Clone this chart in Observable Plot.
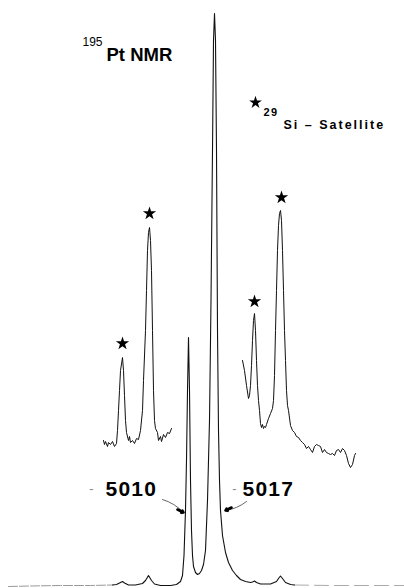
<!DOCTYPE html>
<html>
<head>
<meta charset="utf-8">
<script src="https://cdn.jsdelivr.net/npm/d3@7"></script>
<script src="https://cdn.jsdelivr.net/npm/@observablehq/plot@0.6"></script>
<style>
  html, body { margin: 0; padding: 0; background: #fff; }
  #chart svg { display: block; }
</style>
</head>
<body>
<div id="chart"></div>
<script>
// x: spectrum position (chart divisions, increasing to the right = more negative shift)
// y: intensity (arbitrary units above the main baseline)

// Main 195Pt spectrum (central part)
const mainX = [112,116,120,122,124,128,135,142,145,148,151,154,160,170,176,180,182,183.5,185,186,187,188,189,190,191,192,193,195,197,199,201,203,205,207,209,210.5,212,213,214,215,216,217,218,219,220,222,225,228,232,236,240,245,250,252,254,256,260,270,276,278,280,282,285,290,294];
const mainY = [0.5,1,3,4,2.5,0.5,0.5,2,5,10,5,1.5,0,0,1,4,10,30,75,125,195,248,195,105,55,30,19,13,11,12,15,21,35,85,165,285,435,545,572,545,435,255,155,105,75,50,33,23,15,10,6,4,3,3.5,4.5,3,1.5,1.5,4,7,9.5,7,3,1,0.5];

// Faint baseline outside the central region
const baseLeftX = [8,30,60,90,112];
const baseLeftY = [-1,-0.5,0,0,0.5];
const baseRightX = [294,330,370,404];
const baseRightY = [0.5,0,0,0];

// Expanded inset, left satellites
const leftInsetX = [103,104,105,107,108,110,112,114,116,117,118,119,120,122,123,124,125,126,128,129,130,132,134,136,138,140,142,143,145,146,147,148,149,150,151,152,153,154,155,157,158,160,161,163,165,167,169,171];
const leftInsetY = [145,141,144,139,143,141,144,139,142,155,175,195,215,228,215,190,165,153,145,149,143,145,142,147,146,155,175,205,255,295,335,353,358,345,315,255,195,165,157,153,145,149,144,151,148,153,152,157];

// Expanded inset, right satellites
const rightInsetX = [242,244,246,248,249,250,251,252,253,254,255,256,257,258,259,260,261,262,263,264,265,266,268,270,272,273,274,275,276,277,278,279,280,281,282,283,284,285,286,287,288,290,292,294,296,298,300,302,304,306,308,310,312,314,316,318,320,322,324,326,328,330,332,334,336,338,340,342,344,346,348,350,352,354,355];
const rightInsetY = [225,215,200,187,190,200,220,245,265,272,255,225,200,185,175,162,158,161,157,159,158,161,167,172,177,185,210,255,295,335,360,372,375,365,335,295,255,225,195,180,175,160,155,153,149,148,145,143,141,137,139,136,133,139,141,140,139,133,136,133,132,131,132,130,135,136,133,137,135,130,122,118,121,130,132];

// 29Si satellite markers
const starX = [122,149,254,281];
const starY = [242,372,284,388];

// Annotations
const shiftLabels = ["5010","5017"];
const shiftLabelX = [105,242];
const shiftLabelY = [90,90];
const dashX = [91,234];
const dashY = [97,97];
const arrowFrom = [[162,86],[246,84]];
const arrowTo = [[183,73],[225,75]];
const arrowNeck = [[177,76],[231,78]];

const pairs = (xs, ys) => xs.map((x, i) => ({x, y: ys[i]}));
const font = "Liberation Sans, Arial, Helvetica, sans-serif";

const chart = Plot.plot({
  width: 404,
  height: 588,
  margin: 0,
  x: {domain: [0, 404], range: [0, 404], axis: null},
  y: {domain: [0, 585], range: [585, 0], axis: null},
  style: {background: "#fff"},
  marks: [
    Plot.line(pairs(baseLeftX, baseLeftY), {x: "x", y: "y", stroke: "#999", strokeWidth: 1, strokeDasharray: "9,2"}),
    Plot.line(pairs(baseRightX, baseRightY), {x: "x", y: "y", stroke: "#aaa", strokeWidth: 1, strokeDasharray: "14,6"}),
    Plot.line(pairs(mainX, mainY), {x: "x", y: "y", stroke: "#111", strokeWidth: 1.1}),
    Plot.line(pairs(leftInsetX, leftInsetY), {x: "x", y: "y", stroke: "#111", strokeWidth: 1}),
    Plot.line(pairs(rightInsetX, rightInsetY), {x: "x", y: "y", stroke: "#111", strokeWidth: 1}),
    Plot.dot(pairs(starX, starY), {x: "x", y: "y", symbol: "star", r: 4.2, fill: "#000", stroke: "none"}),
    // title
    Plot.text(["195"], {x: () => 82, y: () => 540, text: d => d, textAnchor: "start", lineAnchor: "bottom", fontSize: 12, fontFamily: font, fill: "#000"}),
    Plot.text(["Pt NMR"], {x: () => 106, y: () => 525, text: d => d, textAnchor: "start", lineAnchor: "bottom", fontSize: 18.5, fontWeight: "bold", fontFamily: font, fill: "#000"}),
    // legend
    Plot.dot([0], {x: () => 255, y: () => 483, symbol: "star", r: 4, fill: "#000", stroke: "none"}),
    Plot.text(["29"], {x: () => 263, y: () => 470, text: d => d, textAnchor: "start", lineAnchor: "bottom", fontSize: 11, fontWeight: "bold", fontFamily: font, fill: "#000"}),
    Plot.text(["Si – Satellite"], {x: () => 283, y: () => 457, text: d => d, textAnchor: "start", lineAnchor: "bottom", fontSize: 12.5, fontWeight: "bold", fontFamily: font, fill: "#000"}),
    // shift labels
    Plot.text(shiftLabels, {x: (d, i) => shiftLabelX[i], y: (d, i) => shiftLabelY[i], text: d => d, textAnchor: "start", lineAnchor: "bottom", fontSize: 21, fontWeight: "bold", fontFamily: font, fill: "#000"}),
    Plot.text(dashX, {x: d => d, y: (d, i) => dashY[i], text: () => "-", textAnchor: "middle", lineAnchor: "middle", fontSize: 13, fontFamily: font, fill: "#888"}),
    Plot.arrow(arrowFrom.map((f, i) => ({x1: f[0], y1: f[1], x2: arrowTo[i][0], y2: arrowTo[i][1]})), {x1: "x1", y1: "y1", x2: "x2", y2: "y2", stroke: "#555", strokeWidth: 0.9, headLength: 0, bend: 15}),
    Plot.arrow(arrowNeck.map((f, i) => ({x1: f[0], y1: f[1], x2: arrowTo[i][0], y2: arrowTo[i][1]})), {x1: "x1", y1: "y1", x2: "x2", y2: "y2", stroke: "#000", strokeWidth: 2.6, headLength: 5, headAngle: 70, bend: 0})
  ]
});

d3.select(chart).selectAll("text").each(function() {
  const t = this.textContent;
  if (t.includes("Satellite")) this.setAttribute("letter-spacing", "2");
  if (t === "29") this.setAttribute("letter-spacing", "1.5");
  if (t === "5010" || t === "5017") this.setAttribute("letter-spacing", "1.2");
});

document.getElementById("chart").appendChild(chart);
</script>
</body>
</html>
